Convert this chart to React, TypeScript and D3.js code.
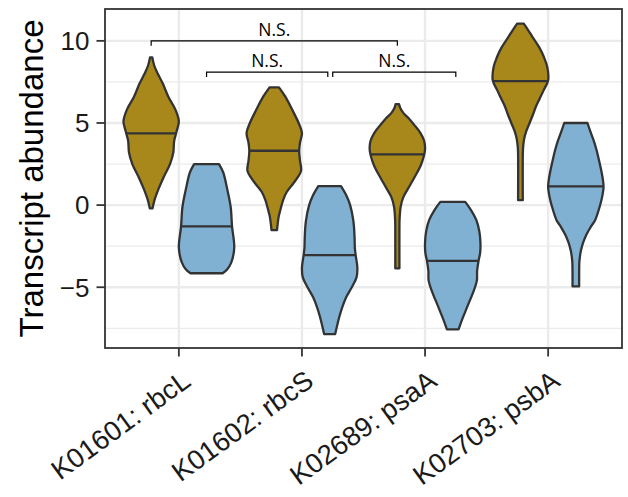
import React from "react";
import * as d3 from "d3";

const categories = ["K01601: rbcL", "K01602: rbcS", "K02689: psaA", "K02703: psbA"];
const groupColors = ["#A8881A", "#80B1D3"];
const groupOffsets = [-0.225, 0.225];

const yTickValues = [-5, 0, 5, 10];
const yTickLabels = ["\u22125", "0", "5", "10"];
const yMinorValues = [-7.5, -2.5, 2.5, 7.5];
const yTitle = "Transcript abundance";

// Violin profiles: [value, relative half-width]
const rbcLGold: [number, number][] = [
  [9.0, 0.04], [8.5, 0.11], [8.0, 0.24], [7.4, 0.42], [6.6, 0.62], [5.8, 0.88], [5.1, 1.0],
  [4.5, 0.92], [3.9, 0.83], [3.2, 0.8], [2.5, 0.68], [1.7, 0.45], [1.0, 0.27], [0.3, 0.12], [-0.2, 0.05],
];
const rbcLBlue: [number, number][] = [
  [2.5, 0.45], [2.0, 0.6], [1.1, 0.73], [-0.1, 0.87], [-1.3, 0.92], [-2.6, 1.0], [-3.5, 0.89], [-3.9, 0.75], [-4.15, 0.58],
];
const rbcSGold: [number, number][] = [
  [7.17, 0.17], [6.6, 0.4], [5.8, 0.65], [5.0, 0.88], [4.4, 1.0], [3.8, 0.93], [3.3, 0.9], [2.7, 0.93],
  [2.1, 0.97], [1.7, 0.85], [1.3, 0.68], [0.8, 0.45], [0.3, 0.32], [-0.3, 0.22], [-0.7, 0.16], [-1.52, 0.1],
];
const rbcSBlue: [number, number][] = [
  [1.16, 0.41], [0.6, 0.6], [0.0, 0.74], [-1.0, 0.86], [-2.0, 0.9], [-2.6, 0.91], [-3.05, 0.94], [-3.8, 1.0],
  [-4.4, 0.97], [-5.0, 0.8], [-5.6, 0.6], [-6.2, 0.46], [-6.8, 0.35], [-7.4, 0.26], [-7.85, 0.2],
];
const psaAGold: [number, number][] = [
  [6.15, 0.06], [5.9, 0.11], [5.6, 0.22], [5.3, 0.4], [4.9, 0.6], [4.4, 0.83], [3.9, 0.97], [3.4, 1.0],
  [3.0, 0.96], [2.4, 0.84], [1.7, 0.62], [1.1, 0.42], [0.5, 0.22], [-0.1, 0.12], [-0.9, 0.08], [-1.6, 0.075], [-3.85, 0.075],
];
const psaABlue: [number, number][] = [
  [0.2, 0.45], [-0.3, 0.66], [-0.9, 0.85], [-1.6, 0.96], [-2.3, 1.0], [-2.9, 0.99], [-3.4, 0.93], [-4.0, 0.88],
  [-4.6, 0.87], [-5.3, 0.74], [-6.0, 0.57], [-6.5, 0.45], [-7.0, 0.33], [-7.57, 0.21],
];
const psbAGold: [number, number][] = [
  [11.05, 0.12], [10.6, 0.3], [10.2, 0.45], [9.6, 0.68], [9.0, 0.85], [8.4, 0.97], [7.6, 1.0], [7.0, 0.84],
  [6.5, 0.7], [6.0, 0.56], [5.5, 0.45], [5.0, 0.33], [4.5, 0.21], [4.0, 0.13], [3.5, 0.095], [3.0, 0.085], [0.3, 0.085],
];
const psbABlue: [number, number][] = [
  [5.0, 0.42], [4.5, 0.52], [4.0, 0.63], [3.4, 0.74], [2.7, 0.84], [2.0, 0.93], [1.5, 0.98], [1.1, 1.0],
  [0.5, 0.95], [-0.1, 0.86], [-0.9, 0.7], [-1.3, 0.55], [-1.8, 0.38], [-2.3, 0.26], [-2.8, 0.18], [-3.4, 0.13],
  [-4.2, 0.12], [-4.95, 0.12],
];

const goldProfiles = [rbcLGold, rbcSGold, psaAGold, psbAGold];
const blueProfiles = [rbcLBlue, rbcSBlue, psaABlue, psbABlue];
const goldMedians = [4.37, 3.31, 3.09, 7.55];
const blueMedians = [-1.3, -3.05, -3.39, 1.14];

const bracketStart = [0.775, 1.225, 2.25];
const bracketEnd = [2.775, 2.21, 3.25];
const bracketLevel = [10.0, 8.1, 8.1];
const bracketLabels = ["N.S.", "N.S.", "N.S."];

const W = 628;
const H = 497;
const panel = { left: 105, right: 622, top: 9, bottom: 348 };

export default function App() {
  const x = d3.scaleLinear().domain([0.4, 4.6]).range([panel.left, panel.right]);
  const y = d3.scaleLinear().domain([-8.7, 11.94]).range([panel.bottom, panel.top]);
  const halfW = x(0.625) - x(0.4); // 0.225 units

  const violins: { path: string; color: string; mx0: number; mx1: number; my: number }[] = [];
  categories.forEach((_, i) => {
    [goldProfiles[i], blueProfiles[i]].forEach((prof, g) => {
      const cx = x(i + 1 + groupOffsets[g]);
      const area = d3
        .area<[number, number]>()
        .y((d) => y(d[0]))
        .x0((d) => cx - d[1] * halfW)
        .x1((d) => cx + d[1] * halfW)
        .curve(d3.curveCatmullRom.alpha(0.5));
      const med = g === 0 ? goldMedians[i] : blueMedians[i];
      const wAt = d3.scaleLinear().domain(prof.map((d) => d[0])).range(prof.map((d) => d[1]));
      const w = wAt(med) * halfW;
      violins.push({ path: area(prof) || "", color: groupColors[g], mx0: cx - w, mx1: cx + w, my: y(med) });
    });
  });

  const font = "'Liberation Sans', Arial, Helvetica, sans-serif";
  const tickCol = "#333333";

  return (
    <svg width={W} height={H} style={{ position: "absolute", left: 0, top: 0, background: "#fff" }}>
      <rect x={0} y={0} width={W} height={H} fill="#fff" />
      {/* grid */}
      {yMinorValues.map((v) => (
        <line key={"mn" + v} x1={panel.left} x2={panel.right} y1={y(v)} y2={y(v)} stroke="#EBEBEB" strokeWidth={1.2} />
      ))}
      {yTickValues.map((v) => (
        <line key={"mj" + v} x1={panel.left} x2={panel.right} y1={y(v)} y2={y(v)} stroke="#EBEBEB" strokeWidth={2.4} />
      ))}
      {categories.map((c, i) => (
        <line key={"vx" + c} x1={x(i + 1)} x2={x(i + 1)} y1={panel.top} y2={panel.bottom} stroke="#EBEBEB" strokeWidth={2.4} />
      ))}
      {/* violins */}
      {violins.map((v, k) => (
        <g key={"v" + k}>
          <path d={v.path} fill={v.color} stroke="#333333" strokeWidth={2.3} strokeLinejoin="round" />
          <line x1={v.mx0} x2={v.mx1} y1={v.my} y2={v.my} stroke="#333333" strokeWidth={2.3} />
        </g>
      ))}
      {/* brackets */}
      {bracketStart.map((s, k) => {
        const x0 = x(s);
        const x1 = x(bracketEnd[k]);
        const yy = y(bracketLevel[k]);
        const tick = 5;
        return (
          <g key={"b" + k}>
            <path d={`M${x0},${yy + tick}V${yy}H${x1}V${yy + tick}`} fill="none" stroke="#000" strokeWidth={1.2} />
            <text x={(x0 + x1) / 2} y={yy - 5} textAnchor="middle" fontFamily="'Open Sans', sans-serif" fontSize={17.5} fill="#000">
              {bracketLabels[k]}
            </text>
          </g>
        );
      })}
      {/* panel border */}
      <rect x={panel.left} y={panel.top} width={panel.right - panel.left} height={panel.bottom - panel.top} fill="none" stroke={tickCol} strokeWidth={1.8} />
      {/* y axis ticks */}
      {yTickValues.map((v, k) => (
        <g key={"yt" + v}>
          <line x1={panel.left - 8.5} x2={panel.left} y1={y(v)} y2={y(v)} stroke={tickCol} strokeWidth={1.8} />
          <text x={89.5} y={y(v)} dy="0.36em" textAnchor="end" fontFamily={font} fontSize={26} fill="#1a1a1a">
            {yTickLabels[k]}
          </text>
        </g>
      ))}
      {/* x axis ticks */}
      {categories.map((c, i) => (
        <g key={"xt" + c}>
          <line x1={x(i + 1)} x2={x(i + 1)} y1={panel.bottom} y2={panel.bottom + 8.5} stroke={tickCol} strokeWidth={1.8} />
          <text
            transform={`translate(${x(i + 1) + 1.9},${368.6}) rotate(-36)`}
            dy="0.716em"
            textAnchor="end"
            fontFamily={font}
            fontSize={27.5}
            fill="#1a1a1a"
          >
            {c}
          </text>
        </g>
      ))}
      {/* y title */}
      <text
        transform={`translate(42.5,${(panel.top + panel.bottom) / 2}) rotate(-90)`}
        textAnchor="middle"
        fontFamily={font}
        fontSize={33}
        fill="#000"
      >
        {yTitle}
      </text>
    </svg>
  );
}
